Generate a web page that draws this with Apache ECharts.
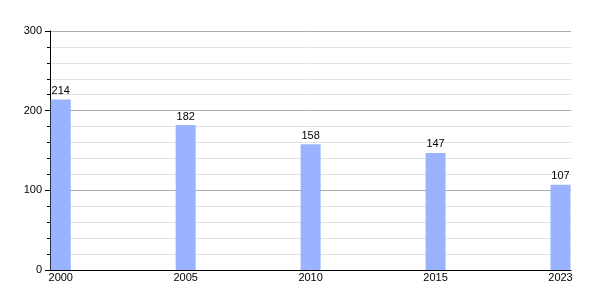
<!DOCTYPE html>
<html><head><meta charset="utf-8">
<script src="https://cdn.jsdelivr.net/npm/echarts@6/dist/echarts.min.js"></script>
<style>html,body{margin:0;padding:0;background:#fff}#c{width:600px;height:300px}</style>
</head><body><div id="c"></div>
<script>
const years = ['2000', '2005', '2010', '2015', '2023'];
const values = [214, 182, 158, 147, 107];
const yTicks = [0, 100, 200, 300];

const chart = echarts.init(document.getElementById('c'), null, {renderer: 'canvas'});
const font = 'Liberation Sans, Arial, sans-serif';
chart.setOption({
  animation: false,
  grid: {left: 50, right: 29, top: 31, bottom: 30, containLabel: false},
  xAxis: {
    type: 'value', min: -0.086, max: 4.084,
    axisLine: {show: true, onZero: false, lineStyle: {color: '#000', width: 1}},
    axisTick: {show: false},
    splitLine: {show: false},
    axisLabel: {
      customValues: years.map((_, i) => i),
      formatter: v => years[Math.round(v)] || '',
      color: '#000', fontSize: 11, fontFamily: font, margin: 2
    }
  },
  yAxis: {
    type: 'value', min: yTicks[0], max: yTicks[yTicks.length - 1], interval: 100,
    axisLine: {show: true, onZero: false, lineStyle: {color: '#000', width: 1}},
    axisTick: {show: true, length: 5, lineStyle: {color: '#000'}},
    minorTick: {show: true, splitNumber: 5, length: 3, lineStyle: {color: '#000'}},
    splitLine: {show: true, lineStyle: {color: '#aaaaaa', width: 1}},
    minorSplitLine: {show: true, lineStyle: {color: '#e2e2e2', width: 1}},
    axisLabel: {color: '#000', fontSize: 11, fontFamily: font, margin: 8}
  },
  series: [{
    type: 'bar',
    data: values.map((v, i) => [i, v]),
    barWidth: 20,
    itemStyle: {color: '#99b3ff'},
    label: {show: true, position: 'top', distance: 3, color: '#000', fontSize: 11, fontFamily: font}
  }]
});
</script></body></html>
